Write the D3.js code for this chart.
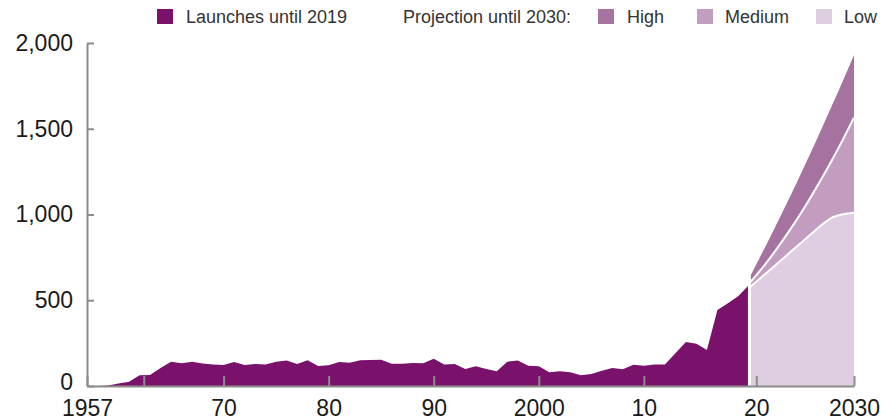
<!DOCTYPE html>
<html>
<head>
<meta charset="utf-8">
<script src="https://cdn.jsdelivr.net/npm/d3@7"></script>
<style>
  html, body { margin: 0; padding: 0; background: #fff; }
  svg { display: block; font-family: "Liberation Sans", Arial, Helvetica, sans-serif; }
</style>
</head>
<body>
<svg id="chart" width="896" height="420"></svg>
<script>
// ---- Data ----
const histYears = d3.range(1957, 2021);
const histValues = [
  0, 0, 3, 15, 25, 63, 64, 105, 142, 132,
  142, 131, 126, 122, 140, 122, 128, 126, 142, 148,
  128, 150, 117, 121, 140, 136, 150, 152, 153, 130,
  130, 134, 132, 159, 126, 128, 99, 115, 99, 86,
  142, 148, 118, 115, 80, 86, 80, 62, 70, 89,
  105, 97, 124, 118, 126, 126, 191, 257, 247, 210,
  443, 482, 525, 589
];
const projYears = d3.range(2020, 2031);
const projHigh   = [625, 745, 866, 990, 1115, 1245, 1376, 1511, 1648, 1787, 1930];
const projMedium = [595, 668, 746, 830, 919, 1013, 1113, 1218, 1328, 1444, 1565];
const projLow    = [572, 624, 677, 730, 784, 837, 890, 943, 984, 1002, 1010];

const yTicks = [0, 500, 1000, 1500, 2000];
const xTicks = [1957, 1962.4, 1970, 1980, 1990, 2000, 2010, 2020.7, 2030];
const xTickLabels = ["1957", "", "70", "80", "90", "2000", "10", "20", "2030"];

const legendItems = [
  { label: "Launches until 2019", color: "#7a126b" },
  { label: "High", color: "#a6729f" },
  { label: "Medium", color: "#c29dc0" },
  { label: "Low", color: "#dfcee1" }
];
const colors = { hist: "#7a126b", high: "#a6729f", medium: "#c29dc0", low: "#dfcee1" };

// ---- Scales ----
const svg = d3.select("#chart");
const x = d3.scaleLinear().domain([1957, 2030]).range([87, 854]);
const y = d3.scaleLinear().domain([0, 2000]).range([386, 43]);

const hist = histYears.map((yr, i) => ({ yr, v: histValues[i] }));
const proj = projYears.map((yr, i) => ({ yr, h: projHigh[i], m: projMedium[i], l: projLow[i] }));

// ---- Historical area ----
svg.append("path")
  .datum(hist)
  .attr("fill", colors.hist)
  .attr("d", d3.area().x(d => x(d.yr)).y0(y(0)).y1(d => y(d.v)).curve(d3.curveLinear));

// ---- Projection areas ----
const curve = d3.curveMonotoneX;
svg.append("path").datum(proj).attr("fill", colors.high)
  .attr("d", d3.area().x(d => x(d.yr)).y0(d => y(d.m)).y1(d => y(d.h)).curve(curve));
svg.append("path").datum(proj).attr("fill", colors.medium)
  .attr("d", d3.area().x(d => x(d.yr)).y0(d => y(d.l)).y1(d => y(d.m)).curve(curve));
svg.append("path").datum(proj).attr("fill", colors.low)
  .attr("d", d3.area().x(d => x(d.yr)).y0(y(0)).y1(d => y(d.l)).curve(curve));

// white boundary lines
svg.append("path").datum(proj).attr("fill", "none").attr("stroke", "#fff").attr("stroke-width", 2)
  .attr("d", d3.line().x(d => x(d.yr)).y(d => y(d.m)).curve(curve));
svg.append("path").datum(proj).attr("fill", "none").attr("stroke", "#fff").attr("stroke-width", 2)
  .attr("d", d3.line().x(d => x(d.yr)).y(d => y(d.l)).curve(curve));

// separator
svg.append("line")
  .attr("x1", x(2020) + 0.5).attr("x2", x(2020) + 0.5)
  .attr("y1", y(projHigh[0]) - 3).attr("y2", y(0))
  .attr("stroke", "#fff").attr("stroke-width", 3);

// ---- Axes ----
const axisColor = "#8c8c8c";
const yAxis = svg.append("g")
  .attr("transform", `translate(${x(1957)},0)`)
  .call(d3.axisLeft(y).tickValues(yTicks).tickSize(-7).tickSizeOuter(0).tickPadding(14)
    .tickFormat(d3.format(",")));
const xAxis = svg.append("g")
  .attr("transform", `translate(0,${y(0)})`)
  .call(d3.axisBottom(x).tickValues(xTicks).tickSize(-10).tickSizeOuter(0).tickPadding(14)
    .tickFormat((d, i) => xTickLabels[i]));

[yAxis, xAxis].forEach(g => {
  g.select(".domain").attr("stroke", axisColor).attr("stroke-width", 2);
  g.selectAll(".tick line").attr("stroke", axisColor).attr("stroke-width", 2);
  g.selectAll(".tick text").attr("fill", "#1a1a1a")
    .style("font-size", "23px").style("font-family", '"Liberation Sans", Arial, sans-serif');
});
// keep the "0" and "1957" labels from colliding in the corner
yAxis.selectAll(".tick text").filter(d => d === 0).attr("dy", "0.16em");

// ---- Legend ----
const lg = svg.append("g").style("font-size", "18px").attr("fill", "#333");
const legendPos = [
  { sq: 157, tx: 186 },
  { sq: 598, tx: 627 },
  { sq: 697, tx: 725 },
  { sq: 816, tx: 844 }
];
legendItems.forEach((it, i) => {
  lg.append("rect").attr("x", legendPos[i].sq).attr("y", 9).attr("width", 16).attr("height", 15)
    .attr("fill", it.color);
  lg.append("text").attr("x", legendPos[i].tx).attr("y", 23).text(it.label);
});
lg.append("text").attr("x", 403).attr("y", 23).text("Projection until 2030:");
</script>
</body>
</html>
